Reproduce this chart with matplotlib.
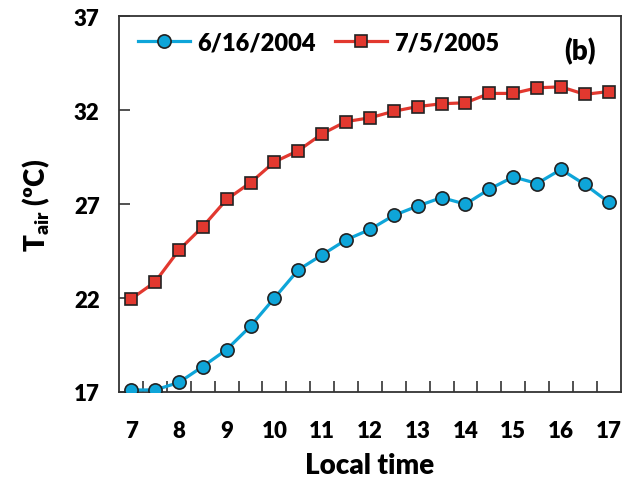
import numpy as np
import matplotlib
matplotlib.use("Agg")
import matplotlib.pyplot as plt

# half-hourly air temperature, 7:00 - 17:00
hours = np.arange(7, 17.01, 0.5)
t_2004 = [17.1, 17.1, 17.5, 18.35, 19.25, 20.5, 22.0, 23.5, 24.3, 25.1, 25.65,
          26.4, 26.9, 27.35, 27.0, 27.8, 28.45, 28.1, 28.85, 28.05, 27.1]
t_2005 = [21.95, 22.85, 24.55, 25.8, 27.25, 28.15, 29.25, 29.85, 30.75, 31.4, 31.6,
          31.95, 32.2, 32.35, 32.4, 32.9, 32.9, 33.2, 33.25, 32.85, 33.0]
labels = ["6/16/2004", "7/5/2005"]
xticks = list(range(7, 18))
yticks = [17, 22, 27, 32, 37]

plt.rcParams['font.family'] = ['Lato', 'DejaVu Sans']
plt.rcParams['font.weight'] = 'heavy'
plt.rcParams['mathtext.fontset'] = 'custom'
plt.rcParams['mathtext.rm'] = 'Lato:heavy'
plt.rcParams['mathtext.default'] = 'rm'

fig = plt.figure(figsize=(6.34, 4.85), dpi=100)
ax = fig.add_axes([0.188, 0.19, 0.791, 0.774])

ax.plot(hours, t_2004, color='#0ea5d9', lw=2.3, marker='o', ms=9.5,
        mfc='#0ea5d9', mec='#222222', mew=1.2, label=labels[0], zorder=3)
ax.plot(hours, t_2005, color='#e2382f', lw=2.3, marker='s', ms=8.5,
        mfc='#e2382f', mec='#222222', mew=1.2, label=labels[1], zorder=3)

ax.set_xlim(6.75, 17.25)
ax.set_ylim(17, 37)
ax.set_xticks(xticks)
ax.set_xticks(np.arange(7.25, 17, 0.5), minor=True)
ax.set_yticks(yticks)
ax.tick_params(axis='x', which='major', length=0, labelsize=16, pad=20)
ax.tick_params(axis='x', which='minor', direction='in', length=8, width=1.2, color='#333333')
ax.tick_params(axis='y', direction='in', length=8, width=1.2, color='#333333',
               labelsize=16, pad=14)
for s in ax.spines.values():
    s.set_color('#333333')
    s.set_linewidth(1.3)

ax.set_xlabel('Local time', fontsize=20, fontweight='heavy', labelpad=8)
ax.set_ylabel('T$_{air}$ (ºC)', fontsize=20, fontweight='heavy', labelpad=16)

ax.legend(loc='upper left', ncol=2, frameon=False, fontsize=17,
          handlelength=2.2, handletextpad=0.3, columnspacing=0.8,
          bbox_to_anchor=(0.0, 1.01), borderaxespad=0.4)
ax.text(0.95, 0.91, '(b)', transform=ax.transAxes, fontsize=20,
        fontweight='heavy', ha='right', va='center')

fig.savefig('out.png', dpi=100)
